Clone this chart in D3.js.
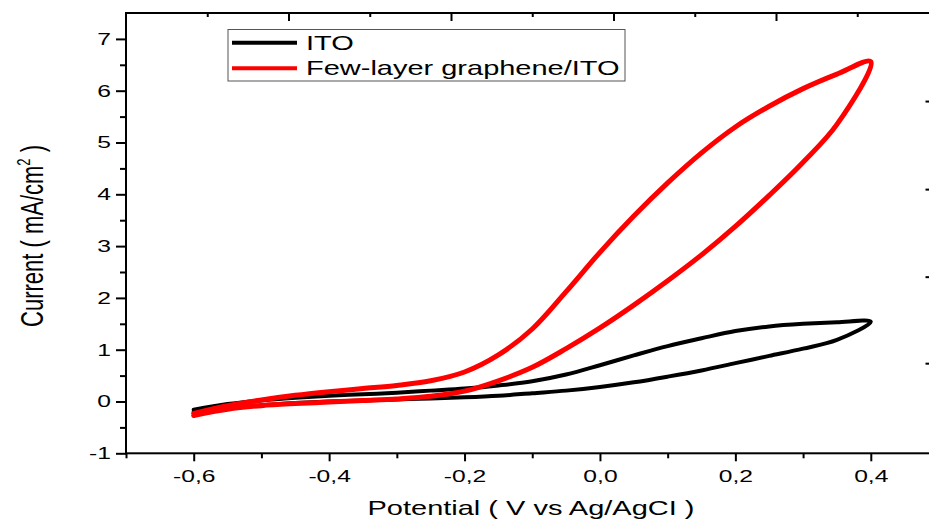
<!DOCTYPE html>
<html>
<head>
<meta charset="utf-8">
<script src="https://cdn.jsdelivr.net/npm/d3@7"></script>
<style>
  body { margin: 0; background: #fff; }
  text { font-family: "Liberation Sans", Arial, sans-serif; fill: #000; }
</style>
</head>
<body>
<div id="chart"></div>
<script>
const svgWidth = 929;
const svgHeight = 523;

// plot frame (right edge runs past the picture)
const frame = { left: 126, top: 13, right: 938.5, bottom: 453.3 };

// text in the original figure is stretched sideways
const stretch = 1.45;

// ---- data ----
const potential = [-0.6, -0.55, -0.5, -0.45, -0.4, -0.35, -0.3, -0.25, -0.2, -0.15, -0.1,
                   -0.05, 0.0, 0.05, 0.1, 0.15, 0.2, 0.25, 0.3, 0.35, 0.4];

// ITO, forward (upper) and reverse (lower) branch
const itoForward = [-0.16, -0.05, 0.02, 0.07, 0.11, 0.14, 0.17, 0.21, 0.25, 0.31, 0.39,
                    0.52, 0.70, 0.89, 1.07, 1.22, 1.36, 1.45, 1.50, 1.53, 1.54];
const itoReverse = [-0.19, -0.12, -0.07, -0.03, 0.00, 0.02, 0.04, 0.06, 0.08, 0.11, 0.16,
                    0.21, 0.28, 0.37, 0.48, 0.60, 0.74, 0.88, 1.02, 1.19, 1.54];

// Few-layer graphene/ITO
const flgForward = [-0.23, -0.08, 0.03, 0.12, 0.19, 0.25, 0.31, 0.40, 0.57, 0.90, 1.40,
                    2.12, 2.88, 3.58, 4.22, 4.80, 5.30, 5.70, 6.04, 6.32, 6.56];
const flgReverse = [-0.27, -0.15, -0.08, -0.04, -0.01, 0.02, 0.05, 0.10, 0.20, 0.40, 0.66,
                    1.02, 1.42, 1.86, 2.33, 2.83, 3.38, 3.98, 4.62, 5.35, 6.56];

const seriesNames = ["ITO", "Few-layer graphene/ITO"];
const seriesColors = ["#000000", "#ff0000"];

const xMajorTicks = [-0.6, -0.4, -0.2, 0.0, 0.2, 0.4];
const xMinorTicks = [-0.7, -0.5, -0.3, -0.1, 0.1, 0.3, 0.5];
const yMajorTicks = [-1, 0, 1, 2, 3, 4, 5, 6, 7];
const yMinorTicks = [-0.5, 0.5, 1.5, 2.5, 3.5, 4.5, 5.5, 6.5];
// top and right axes carry their own, unlabelled ticks
const topMajorTicks = [-0.5, -0.3, -0.1, 0.1];
const topMinorTicks = [-0.6, -0.4, -0.2, 0.0, 0.2];
const rightTicks = [0.74, 2.41, 4.10, 5.80];

// ---- scales ----
const x = d3.scaleLinear().domain([-0.7, 0.5]).range([frame.left, frame.right]);
const xTop = d3.scaleLinear().domain([-0.7, 0.3]).range([frame.left, frame.right]);
const y = d3.scaleLinear().domain([-1, 7.5]).range([frame.bottom, frame.top]);

const svg = d3.select("#chart")
    .append("svg")
    .attr("width", svgWidth)
    .attr("height", svgHeight);

// ---- curves ----
function loop(fwd, rev) {
    const pts = potential.map((p, i) => [p, fwd[i]]);
    for (let i = potential.length - 2; i >= 0; i--) pts.push([potential[i], rev[i]]);
    return pts;
}

const line = d3.line()
    .x(d => x(d[0]))
    .y(d => y(d[1]))
    .curve(d3.curveCatmullRom.alpha(0.5));

const loops = [loop(itoForward, itoReverse), loop(flgForward, flgReverse)];
const widths = [4, 5];

loops.forEach((pts, i) => {
    svg.append("path")
        .attr("d", line(pts))
        .attr("fill", "none")
        .attr("stroke", seriesColors[i])
        .attr("stroke-width", widths[i])
        .attr("stroke-linejoin", "round")
        .attr("stroke-linecap", "round");
});

// ---- axes ----
function tidy(g) {
    g.select(".domain").remove();
    g.selectAll(".tick line").attr("stroke", "#000").attr("stroke-width", 2);
}

// bottom
svg.append("g")
    .attr("transform", `translate(0, ${frame.bottom})`)
    .call(d3.axisBottom(x).tickValues(xMinorTicks).tickSize(5).tickFormat(""))
    .call(tidy);

const xAxis = svg.append("g")
    .attr("transform", `translate(0, ${frame.bottom})`)
    .call(d3.axisBottom(x).tickValues(xMajorTicks).tickSize(8).tickPadding(9)
        .tickFormat(d => d.toFixed(1).replace(".", ",")))
    .call(tidy);
xAxis.selectAll(".tick text")
    .attr("font-size", 17)
    .attr("font-family", "Liberation Sans, Arial, sans-serif")
    .attr("transform", `scale(${stretch},1)`);

// left
svg.append("g")
    .attr("transform", `translate(${frame.left}, 0)`)
    .call(d3.axisLeft(y).tickValues(yMinorTicks).tickSize(6).tickFormat(""))
    .call(tidy);

const yAxis = svg.append("g")
    .attr("transform", `translate(${frame.left}, 0)`)
    .call(d3.axisLeft(y).tickValues(yMajorTicks).tickSize(10).tickFormat(d => String(d)))
    .call(tidy);
yAxis.selectAll(".tick text")
    .attr("font-size", 17)
    .attr("font-family", "Liberation Sans, Arial, sans-serif")
    .attr("x", -15 / stretch)
    .attr("transform", `scale(${stretch},1)`);

// top (ticks inward)
svg.append("g")
    .attr("transform", `translate(0, ${frame.top})`)
    .call(d3.axisBottom(xTop).tickValues(topMinorTicks).tickSize(4).tickFormat(""))
    .call(tidy);
svg.append("g")
    .attr("transform", `translate(0, ${frame.top})`)
    .call(d3.axisBottom(xTop).tickValues(topMajorTicks).tickSize(8).tickFormat(""))
    .call(tidy);

// right (ticks inward, axis line is outside the picture)
svg.append("g")
    .attr("transform", `translate(${frame.right}, 0)`)
    .call(d3.axisLeft(y).tickValues(rightTicks).tickSize(13).tickFormat(""))
    .call(g => g.select(".domain").remove())
    .call(g => g.selectAll(".tick line").attr("stroke", "#000").attr("stroke-width", 2));

// frame
svg.append("rect")
    .attr("x", frame.left)
    .attr("y", frame.top)
    .attr("width", frame.right - frame.left)
    .attr("height", frame.bottom - frame.top)
    .attr("fill", "none")
    .attr("stroke", "#000")
    .attr("stroke-width", 2);

// ---- axis titles ----
svg.append("text")
    .attr("transform", `translate(${(frame.left + 938) / 2 - 1}, 515) scale(${stretch},1)`)
    .attr("text-anchor", "middle")
    .attr("font-size", 20)
    .text("Potential ( V vs Ag/AgCI )");

const yTitle = svg.append("text")
    .attr("transform", `translate(43, 236) scale(${stretch},1) rotate(-90)`)
    .attr("text-anchor", "middle")
    .attr("font-size", 22);
yTitle.append("tspan").text("Current ( mA/cm");
yTitle.append("tspan").attr("font-size", 13).attr("dy", -9).text("2");
yTitle.append("tspan").attr("dy", 9).text(" )");

// ---- legend ----
const legend = svg.append("g");
legend.append("rect")
    .attr("x", 228)
    .attr("y", 29.5)
    .attr("width", 397)
    .attr("height", 51.5)
    .attr("fill", "#fff")
    .attr("stroke", "#555")
    .attr("stroke-width", 1);

seriesNames.forEach((name, i) => {
    const ly = 42.7 + i * 25.6;
    legend.append("line")
        .attr("x1", 232).attr("x2", 297)
        .attr("y1", ly).attr("y2", ly)
        .attr("stroke", seriesColors[i])
        .attr("stroke-width", 4);
    legend.append("text")
        .attr("transform", `translate(306, ${ly + 7}) scale(${stretch},1)`)
        .attr("font-size", 20)
        .text(name);
});
</script>
</body>
</html>
